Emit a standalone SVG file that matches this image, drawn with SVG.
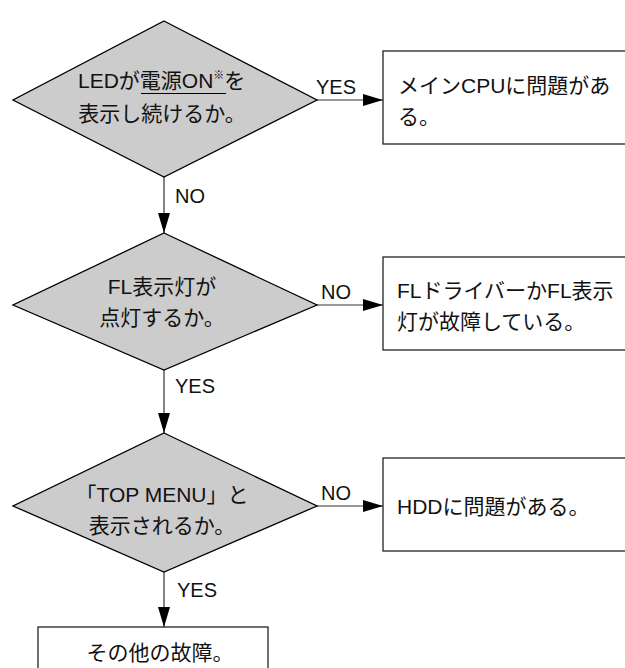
<svg xmlns="http://www.w3.org/2000/svg" width="625" height="668" viewBox="0 0 625 668">
<defs>
<style>
.dia{fill:#cccccc;stroke:#000;stroke-width:1.3}
.box{fill:#fff;stroke:#222;stroke-width:1.3}
.t{font-family:"Liberation Sans","Noto Sans CJK JP",sans-serif;font-size:21px;fill:#111}
.c{text-anchor:middle}
.lb{font-family:"Liberation Sans","Noto Sans CJK JP",sans-serif;font-size:20px;fill:#111}
.cn{fill:none;stroke:#333;stroke-width:1.2}
</style>
<marker id="ah" markerUnits="userSpaceOnUse" markerWidth="21" markerHeight="13" refX="20" refY="6.5" orient="auto" viewBox="0 0 21 13">
<path d="M0,0.5 L20,6.5 L0,12.5 z" fill="#000"/>
</marker>
</defs>
<rect width="625" height="668" fill="#fff"/>
<g id="connectors">
<line class="cn" x1="317" y1="100" x2="383" y2="100" marker-end="url(#ah)"/>
<line class="cn" x1="164" y1="177" x2="164" y2="233" marker-end="url(#ah)"/>
<line class="cn" x1="317" y1="305" x2="383" y2="305" marker-end="url(#ah)"/>
<line class="cn" x1="164" y1="370" x2="164" y2="433" marker-end="url(#ah)"/>
<line class="cn" x1="317" y1="506" x2="383" y2="506" marker-end="url(#ah)"/>
<line class="cn" x1="164" y1="572" x2="164" y2="627" marker-end="url(#ah)"/>
<text class="lb" x="316" y="94">YES</text>
<text class="lb" x="175" y="203">NO</text>
<text class="lb" x="321" y="299">NO</text>
<text class="lb" x="175" y="393">YES</text>
<text class="lb" x="321" y="500">NO</text>
<text class="lb" x="177" y="597">YES</text>
</g>
<g id="d1">
<polygon class="dia" points="164,21 317,100 164,177 13,100"/>
<text class="t" x="78" y="88">LEDが電源ON<tspan font-size="11" dy="-9">※</tspan><tspan dy="9">を</tspan></text>
<line x1="141" y1="93.5" x2="226" y2="93.5" stroke="#000" stroke-width="1.2"/>
<text class="t c" x="162" y="121">表示し続けるか。</text>
</g>
<g id="b1">
<rect class="box" x="383" y="51" width="260" height="93"/>
<text class="t" x="398" y="93">メインCPUに問題があ</text>
<text class="t" x="398" y="124">る。</text>
</g>
<g id="d2">
<polygon class="dia" points="164,233 317,305 164,370 13,305"/>
<text class="t c" x="162" y="294">FL表示灯が</text>
<text class="t c" x="162" y="325">点灯するか。</text>
</g>
<g id="b2">
<rect class="box" x="383" y="257" width="260" height="93"/>
<text class="t" x="397" y="298">FLドライバーかFL表示</text>
<text class="t" x="397" y="329">灯が故障している。</text>
</g>
<g id="d3">
<polygon class="dia" points="164,433 317,506 164,572 13,506"/>
<text class="t c" x="162" y="502">「TOP MENU」と</text>
<text class="t c" x="162" y="533">表示されるか。</text>
</g>
<g id="b3">
<rect class="box" x="383" y="458" width="260" height="93"/>
<text class="t" x="397" y="514">HDDに問題がある。</text>
</g>
<g id="b4">
<rect class="box" x="38" y="627" width="230" height="60"/>
<text class="t c" x="160" y="660">その他の故障。</text>
</g>
</svg>
